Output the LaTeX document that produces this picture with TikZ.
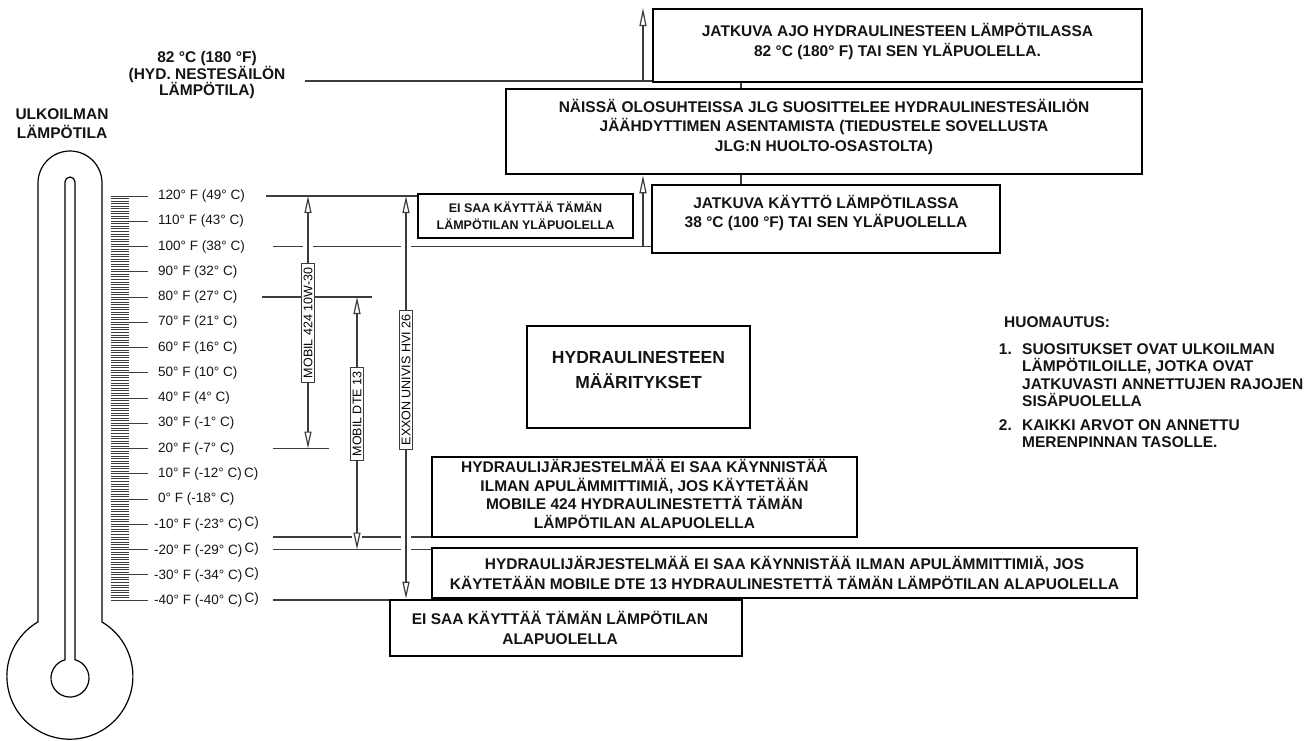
\documentclass[tikz,border=0pt]{standalone}
\usepackage{fontspec}
\setmainfont{Liberation Sans}
\usepackage{tikz}
\usetikzlibrary{arrows.meta, positioning, calc}
\definecolor{mydark}{RGB}{20,20,20}
\definecolor{myline}{RGB}{60,60,60}
\newcommand{\hydboxfont}{\fontsize{15.5}{19.5}\selectfont\bfseries}
\newcommand{\hydheadfont}{\fontsize{15.5}{16.5}\selectfont\bfseries}
\newcommand{\hydscalefont}{\fontsize{13.5}{16}\selectfont}
\newcommand{\hydtagfont}{\fontsize{12.5}{14}\selectfont}
\tikzset{
  infobox/.style={rectangle, draw=black, line width=2.6pt, align=center,
    inner sep=0pt, font=\hydboxfont, text=mydark},
  boxtext/.style={align=center, inner sep=0pt, font=\hydboxfont, text=mydark},
  smallbox/.style={font=\fontsize{12.5}{17}\selectfont\bfseries},
  bigbox/.style={font=\fontsize{17.5}{25}\selectfont\bfseries},
  headtext/.style={align=center, inner sep=0pt, font=\hydheadfont, text=mydark},
  notetext/.style={align=left, inner sep=0pt, font=\fontsize{15.5}{17.5}\selectfont\bfseries, text=mydark},
  scalelabel/.style={inner sep=0pt, font=\hydscalefont, text=mydark},
  oiltag/.style={rectangle, draw=myline, line width=1.2pt, fill=white, rotate=90,
    font=\hydtagfont, inner xsep=4pt, inner ysep=2pt},
  thermo/.style={line width=1.2pt, color=black},
  tickline/.style={line width=0.7pt, color=myline},
  levelline/.style={line width=1.2pt, color=myline},
  spanarrow/.style={{Triangle[open, length=17pt, width=7pt]}-{Triangle[open, length=17pt, width=7pt]},
    line width=1.2pt, color=myline,
    preaction={draw=white, -, line width=10pt, shorten <=12pt, shorten >=12pt}},
  riser/.style={-{Triangle[open, length=18pt, width=7pt]}, line width=1.2pt, color=myline}
}

\begin{document}
\begin{tikzpicture}[x=1pt, y=1pt]
  \useasboundingbox (0,0) rectangle (1310,-740);
  % Thermometer body and bulb
  \draw[thermo] (38,-622) -- (38,-183) arc[start angle=180, end angle=0, radius=32]
    -- (102,-622) arc[start angle=59.35, end angle=-239.35, radius=63] -- cycle;
  \draw[thermo] (65,-659.7) -- (65,-182) arc[start angle=180, end angle=0, radius=5]
    -- (75,-659.7) arc[start angle=74.74, end angle=-254.74, radius=19] -- cycle;
  % Scale ticks
  \foreach \t in {-40,...,120}{
    \pgfmathsetmacro{\ty}{-196-(120-\t)*2.525}
    \draw[tickline] (111,\ty) -- (129,\ty);
  }
  \foreach \t in {-40,-30,...,120}{
    \pgfmathsetmacro{\ty}{-196-(120-\t)*2.525}
    \draw[tickline, line width=1pt] (111,\ty) -- (148,\ty);
  }
  % Scale labels
  \foreach \t/\dx/\txt in {120/158/{120° F (49° C)}, 110/158/{110° F (43° C)},
      100/158/{100° F (38° C)}, 90/158/{90° F (32° C)}, 80/158/{80° F (27° C)},
      70/158/{70° F (21° C)}, 60/158/{60° F (16° C)}, 50/158/{50° F (10° C)},
      40/158/{40° F (4° C)}, 30/158/{30° F (-1° C)}, 20/158/{20° F (-7° C)},
      10/158/{10° F (-12° C)\,C)}, 0/158/{0° F (-18° C)},
      -10/154/{-10° F (-23° C)\,\raisebox{2pt}{C)}}, -20/154/{-20° F (-29° C)\,\raisebox{2pt}{C)}},
      -30/154/{-30° F (-34° C)\,\raisebox{2pt}{C)}}, -40/154/{-40° F (-40° C)\,\raisebox{2pt}{C)}}}{
    \pgfmathsetmacro{\ty}{-196-(120-\t)*2.525}
    \pgfmathtruncatemacro{\idx}{(120-\t)/10}
    \node[scalelabel, anchor=west] (lbl\idx) at (\dx,\ty) {\txt};
  }
  % Headings
  \node[headtext, font=\fontsize{15.5}{19}\selectfont\bfseries] (airlbl) at (62,-124) {ULKOILMAN\\LÄMPÖTILA};
  \node[headtext] (hotlbl) at (207,-75) {82 °C (180 °F)\\(HYD. NESTESÄILÖN\\LÄMPÖTILA)};
  % Boxes
  \node[infobox, minimum width=489, minimum height=73] (topbox) at (897.5,-45.5) {};
  \node[boxtext] (toptext) at ([yshift=4pt]topbox.center)
    {JATKUVA AJO HYDRAULINESTEEN LÄMPÖTILASSA\\82 °C (180° F) TAI SEN YLÄPUOLELLA.};
  \node[infobox, minimum width=636, minimum height=85] (coolbox) at (824,-131.5) {};
  \node[boxtext] (cooltext) at ([yshift=5pt]coolbox.center)
    {NÄISSÄ OLOSUHTEISSA JLG SUOSITTELEE HYDRAULINESTESÄILIÖN\\JÄÄHDYTTIMEN ASENTAMISTA (TIEDUSTELE SOVELLUSTA\\JLG:N HUOLTO-OSASTOLTA)};
  \node[infobox, minimum width=348, minimum height=68] (warmbox) at (826,-219) {};
  \node[boxtext] (warmtext) at ([yshift=6pt]warmbox.center)
    {JATKUVA KÄYTTÖ LÄMPÖTILASSA\\38 °C (100 °F) TAI SEN YLÄPUOLELLA};
  \node[infobox, smallbox, minimum width=215, minimum height=44] (upperbox) at (525.5,-216)
    {EI SAA KÄYTTÄÄ TÄMÄN\\LÄMPÖTILAN YLÄPUOLELLA};
  \node[infobox, minimum width=223, minimum height=102] (specbox) at (638.5,-377) {};
  \node[boxtext, bigbox] (spectext) at ([yshift=7pt]specbox.center)
    {HYDRAULINESTEEN\\MÄÄRITYKSET};
  \node[infobox, minimum width=425, minimum height=80] (mobilbox) at (644.5,-497) {};
  \node[boxtext, font=\fontsize{15.5}{18.8}\selectfont\bfseries] (mobiltext) at ([yshift=3pt]mobilbox.center)
    {HYDRAULIJÄRJESTELMÄÄ EI SAA KÄYNNISTÄÄ\\ILMAN APULÄMMITTIMIÄ, JOS KÄYTETÄÄN\\MOBILE 424 HYDRAULINESTETTÄ TÄMÄN\\LÄMPÖTILAN ALAPUOLELLA};
  \node[infobox, minimum width=705, minimum height=50] (dtebox) at (784.5,-573)
    {HYDRAULIJÄRJESTELMÄÄ EI SAA KÄYNNISTÄÄ ILMAN APULÄMMITTIMIÄ, JOS\\KÄYTETÄÄN MOBILE DTE 13 HYDRAULINESTETTÄ TÄMÄN LÄMPÖTILAN ALAPUOLELLA};
  \node[infobox, minimum width=352, minimum height=56] (lowerbox) at (566,-628) {};
  \node[boxtext] (lowertext) at ([xshift=-6pt]lowerbox.center)
    {EI SAA KÄYTTÄÄ TÄMÄN LÄMPÖTILAN\\ALAPUOLELLA};
  % Box joins and risers
  \coordinate (joinx) at (741,0);
  \draw[levelline] (topbox.south -| joinx) -- (coolbox.north -| joinx);
  \draw[levelline] (coolbox.south -| joinx) -- (warmbox.north -| joinx);
  \coordinate (hotstart) at (305,-81);
  \coordinate (hottip) at (643,-8);
  \draw[levelline] (hotstart) -- (hotstart -| topbox.west);
  \draw[riser] (hotstart -| hottip) -- (hottip);
  % Level lines
  \coordinate (l120) at (266,-196);
  \coordinate (l100) at (273,-246.5);
  \coordinate (l80) at (262,-297);
  \coordinate (l20) at (273,-448.5);
  \coordinate (lm15) at (273,-537);
  \coordinate (lm20) at (273,-549.5);
  \coordinate (lm40) at (273,-600);
  \draw[levelline] (l120) -- (l120 -| upperbox.west);
  \draw[levelline] (l100) -- (l100 -| warmbox.west);
  \draw[levelline] (l80) -- ++(110,0);
  \draw[levelline] (l20) -- ++(56,0);
  \draw[levelline] (lm15) -- (lm15 -| mobilbox.west);
  \draw[levelline] (lm20) -- (lm20 -| dtebox.west);
  \draw[levelline] (lm40) -- (lm40 -| lowerbox.west);
  \draw[riser] (l100 -| hottip) -- (coolbox.south -| hottip);
  % Oil ranges
  \coordinate (x424) at (308,0);
  \coordinate (xdte) at (357,0);
  \coordinate (xexx) at (406,0);
  \draw[spanarrow] (x424 |- l120) -- (x424 |- l20);
  \draw[spanarrow] (xdte |- l80) -- (xdte |- lm20);
  \draw[spanarrow] (xexx |- l120) -- (xexx |- lowerbox.north);
  \node[oiltag] (tag424) at (308,-323) {MOBIL 424 10W-30};
  \node[oiltag] (tagdte) at (357,-414) {MOBIL DTE 13};
  \node[oiltag] (tagexx) at (406,-380) {EXXON UNIVIS HVI 26};
  % Notes
  \node[notetext, anchor=base west] (notehead) at (1004,-327) {HUOMAUTUS:};
  \node[notetext, anchor=north west] (note1) at (1022,-343.3)
    {SUOSITUKSET OVAT ULKOILMAN\\LÄMPÖTILOILLE, JOTKA OVAT\\JATKUVASTI ANNETTUJEN RAJOJEN\\SISÄPUOLELLA};
  \node[notetext, anchor=base east] (num1) at (1012,-354.5) {1.};
  \node[notetext, anchor=north west] (note2) at (1022,-419.3)
    {KAIKKI ARVOT ON ANNETTU\\MERENPINNAN TASOLLE.};
  \node[notetext, anchor=base east] (num2) at (1012,-430.5) {2.};
\end{tikzpicture}
\end{document}
